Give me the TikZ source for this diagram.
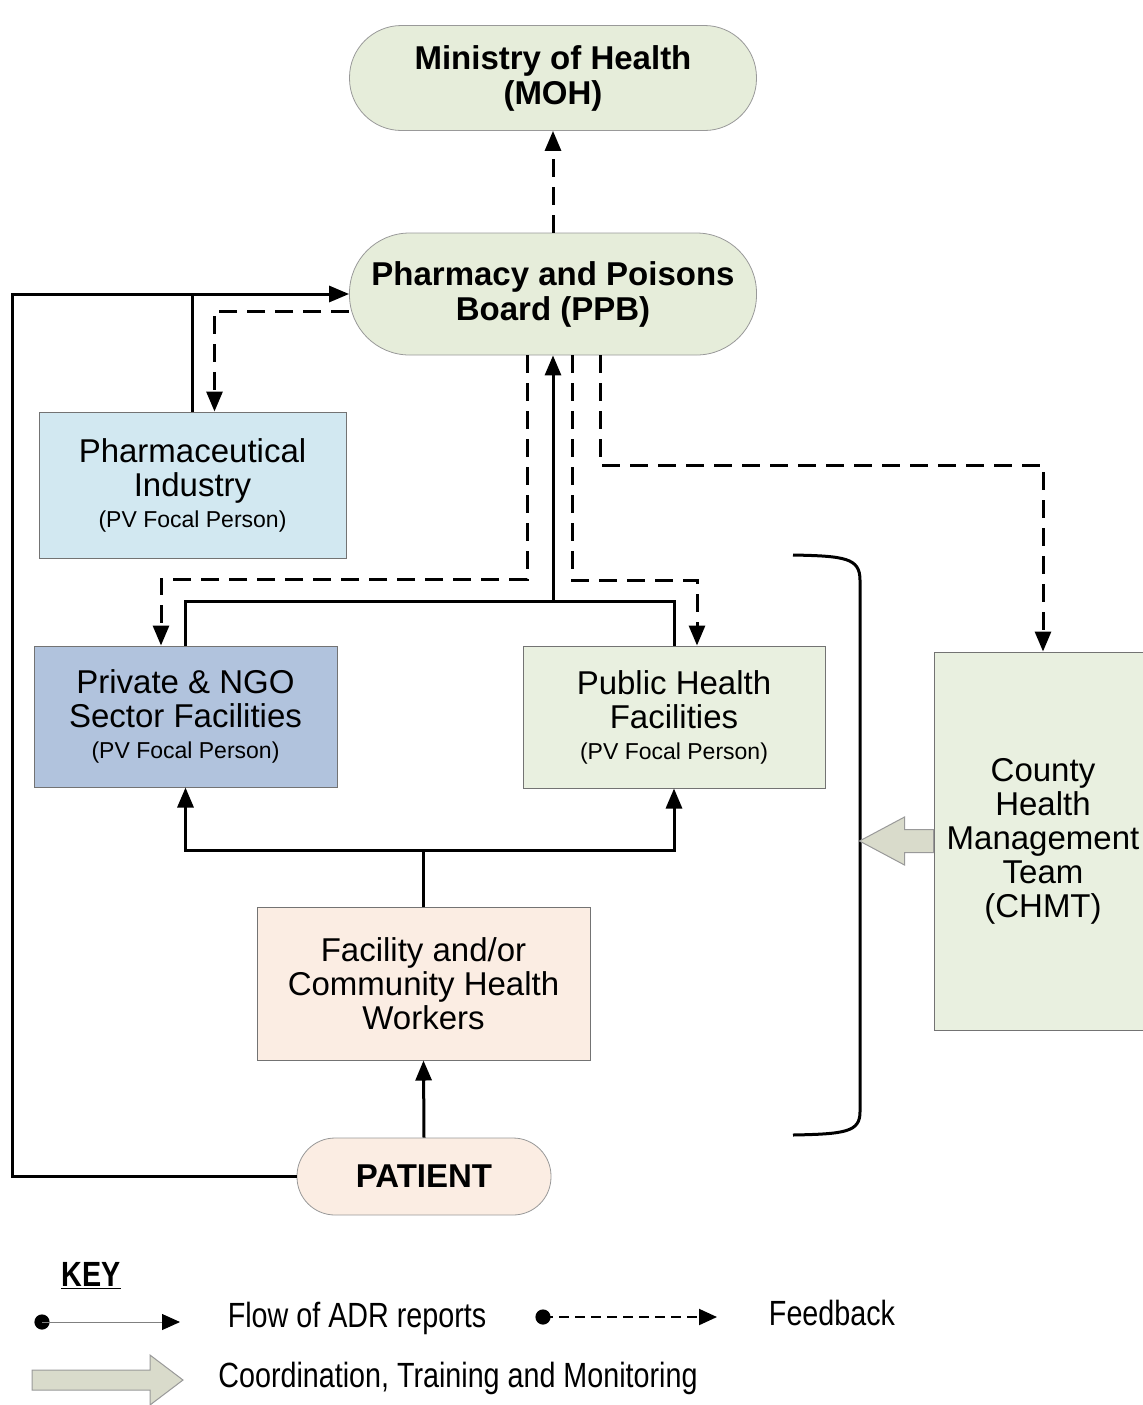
\documentclass[tikz,border=0pt]{standalone}
\usepackage{fontspec}
\setmainfont{Liberation Sans}
\newfontfamily\keyfont{Liberation Sans}[FakeStretch=0.82]
\usetikzlibrary{arrows.meta}
\definecolor{ovalgreen}{HTML}{E6EDDA}
\definecolor{pharmablue}{HTML}{D2E8F1}
\definecolor{privateblue}{HTML}{B1C3DD}
\definecolor{publicgreen}{HTML}{E9F0E0}
\definecolor{peach}{HTML}{FBEDE3}
\definecolor{coordfill}{HTML}{D9DBCB}
\newcommand{\pvperson}{\\[-1.5pt]{\fontsize{11.5}{13}\selectfont (PV Focal Person)}}
\begin{document}
\begin{tikzpicture}[x=0.5pt,y=-0.5pt,
  every node/.style={align=center,inner sep=0pt},
  oval/.style={draw=gray!80,line width=0.4pt,font=\bfseries\fontsize{16.5}{17.5}\selectfont},
  unit/.style={draw=gray!90!black,line width=0.5pt,font=\fontsize{16.5}{17}\selectfont},
  link/.style={line width=1.5pt},
  report/.style={link,-{Triangle[width=8pt,length=10pt]}},
  feedback/.style={report,dash pattern=on 9pt off 5pt},
  blockarrow/.style={draw=gray!80,line width=0.5pt,fill=coordfill},
  keytext/.style={font=\keyfont\fontsize{17.5}{20}\selectfont}]
  \useasboundingbox (0,0) rectangle (1143,1405);
  \node[oval,fill=ovalgreen,minimum width=203.5pt,minimum height=52.5pt,rounded corners=26pt] (moh) at (553,78) {Ministry of Health\\(MOH)};
  \node[oval,fill=ovalgreen,minimum width=203.5pt,minimum height=61pt,rounded corners=30pt] (ppb) at (553,294) {Pharmacy and Poisons\\Board (PPB)};
  \node[unit,fill=pharmablue,minimum width=153.5pt,minimum height=73pt] (pharma) at (192.5,485) {Pharmaceutical\\Industry\pvperson};
  \node[unit,fill=privateblue,minimum width=151.5pt,minimum height=70.5pt] (private) at (185.5,716.5) {Private \& NGO\\Sector Facilities\pvperson};
  \node[unit,fill=publicgreen,minimum width=151pt,minimum height=71pt] (public) at (674,717) {Public Health\\Facilities\pvperson};
  \node[unit,fill=publicgreen,minimum width=109pt,minimum height=189pt] (chmt) at (1043,841) {County\\Health\\Management\\Team\\(CHMT)};
  \node[unit,fill=peach,minimum width=166.5pt,minimum height=76.5pt] (chw) at (423.5,983.5) {Facility and/or\\Community Health\\Workers};
  \node[oval,fill=peach,minimum width=127pt,minimum height=38.5pt,rounded corners=19pt] (patient) at (424,1176.5) {PATIENT};

  \draw[feedback] (ppb.north) -- (moh.south);
  \draw[report] (patient.west) -- ++(-284,0) |- (ppb.west);
  \draw[link] (pharma.north) -- (pharma.north |- ppb.west);
  \draw[feedback] ([yshift=-8.5pt]ppb.west) -| ([xshift=11pt]pharma.north);
  \draw[feedback] ([xshift=-13pt]ppb.south) -- ++(0,224) -| ([xshift=-12.25pt]private.north);
  \draw[feedback] ([xshift=9.5pt]ppb.south) -- ++(0,225) -| ([xshift=11.5pt]public.north);
  \draw[feedback] ([xshift=23.5pt]ppb.south) -- ++(0,110) -| (chmt.north);
  \draw[link] (private.north) -- ++(0,-44) coordinate (jtop) -| (public.north);
  \draw[report] (jtop -| ppb.south) -- (ppb.south);
  \draw[link] (chw.north) -- ++(0,-56) coordinate (jbot);
  \draw[report] (jbot) -| (private.south);
  \draw[report] (jbot) -| (public.south);
  \draw[report] (patient.north) -- (chw.south);

  \draw[line width=1.5pt] (793,555) .. controls (845,556) and (860,558) .. (860,580) -- (860,1112) .. controls (860,1132) and (845,1134) .. (793,1135);
  \draw[blockarrow] (chmt.west) ++(0,-11.5) -- ++(-29,0) -- ++(0,-12.5) -- ++(-45,24) -- ++(45,24) -- ++(0,-12.5) -- ++(29,0) -- cycle;

  \node[keytext,font=\keyfont\bfseries\fontsize{17.5}{20}\selectfont] (key) at (91,1276) {\underline{KEY}};
  \coordinate (flowa) at (42,1322);
  \coordinate (flowb) at (180,1322);
  \fill (flowa) circle (3.8pt);
  \draw[gray,line width=0.5pt,-{Triangle[width=8pt,length=9pt,color=black]}] (flowa) -- (flowb);
  \node[keytext] (flowtext) at (357,1318) {Flow of ADR reports};
  \coordinate (feeda) at (543,1317);
  \coordinate (feedb) at (717,1317);
  \fill (feeda) circle (3.8pt);
  \draw[line width=1pt,dash pattern=on 5pt off 3pt,-{Triangle[width=8pt,length=9pt]}] (feeda) -- (feedb);
  \node[keytext] (feedtext) at (832,1313) {Feedback};
  \draw[blockarrow] (32,1370) -- (150,1370) -- (150,1355) -- (183,1380) -- (150,1405) -- (150,1390) -- (32,1390) -- cycle;
  \node[keytext] (coordtext) at (458,1378) {Coordination, Training and Monitoring};
\end{tikzpicture}
\end{document}
